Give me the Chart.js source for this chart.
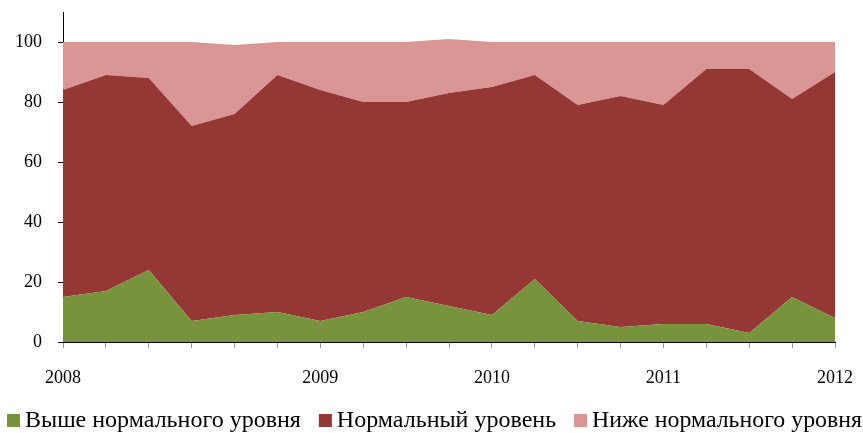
<!DOCTYPE html>
<html>
<head>
<meta charset="utf-8">
<script src="https://cdn.jsdelivr.net/npm/chart.js@4/dist/chart.umd.min.js"></script>
<style>
  html, body { margin: 0; padding: 0; background: #fff; }
  #wrap { width: 863px; height: 433px; }
</style>
</head>
<body>
<div id="wrap"><canvas id="grafico"></canvas></div>
<script>
// Подписи оси X (только у 2008..2012, остальные точки без подписи)
const periodos = ['2008', '', '', '', '', '', '2009', '', '', '', '2010', '', '', '', '2011', '', '', '', '2012'];

// Доли ответов, %
const acimaNormal = [15, 17, 24, 7, 9, 10, 7, 10, 15, 12, 9, 21, 7, 5, 6, 6, 3, 15, 8];
const nivelNormal = [69, 72, 64, 65, 67, 79, 77, 70, 65, 71, 76, 68, 72, 77, 73, 85, 88, 66, 82];
const abaixoNormal = [16, 11, 12, 28, 23, 11, 16, 20, 20, 18, 15, 11, 21, 18, 21, 9, 9, 19, 10];

const nomesSeries = ['Выше нормального уровня', 'Нормальный уровень', 'Ниже нормального уровня'];
const cores = ['#77933C', '#953735', '#D99694'];

function serie(i, dados, fill) {
  return {
    label: nomesSeries[i],
    data: dados,
    backgroundColor: cores[i],
    borderColor: cores[i],
    borderWidth: 0,
    pointRadius: 0,
    tension: 0,
    fill: fill,
  };
}

// Legenda desenhada à mão, uma linha só como no original
const legendaLinha = {
  id: 'legendaLinha',
  afterDraw(chart) {
    const c = chart.ctx;
    c.save();
    c.font = '24px "Liberation Serif"';
    c.textBaseline = 'middle';
    c.textAlign = 'left';
    let x = 7;
    const y = 421;
    chart.data.datasets.forEach((ds) => {
      c.fillStyle = ds.backgroundColor;
      c.fillRect(x, y - 7, 13, 13);
      x += 13 + 5;
      c.fillStyle = '#000';
      const w = Math.min(c.measureText(ds.label).width, chart.width - x - 1);
      c.fillText(ds.label, x, y, w);
      x += w + 18;
    });
    c.restore();
  },
};

// tira o padding automático das escalas, o layout.padding manda
function semPadding(scale) {
  scale.paddingTop = 0;
  scale.paddingBottom = 0;
  scale.paddingLeft = 0;
  scale.paddingRight = 0;
}

const ctx = document.getElementById('grafico').getContext('2d');
const chart = new Chart(ctx, {
  type: 'line',
  data: {
    labels: periodos,
    datasets: [
      serie(0, acimaNormal, 'origin'),
      serie(1, nivelNormal, '-1'),
      serie(2, abaixoNormal, '-1'),
    ],
  },
  plugins: [legendaLinha],
  options: {
    responsive: true,
    maintainAspectRatio: false,
    animation: false,
    layout: { padding: { left: 0, right: 28, top: 12, bottom: 41 } },
    plugins: {
      tooltip: { enabled: false },
      legend: { display: false },
    },
    scales: {
      x: {
        stacked: true,
        offset: false,
        grid: { drawOnChartArea: false, color: '#999', tickLength: 6 },
        border: { color: '#000', width: 1 },
        ticks: {
          autoSkip: false,
          maxRotation: 0,
          padding: 19,
          color: '#000',
          font: { family: 'Liberation Serif', size: 18 },
        },
        afterFit: (scale) => {
          scale.height = 50;
          semPadding(scale);
        },
      },
      y: {
        stacked: true,
        min: 0,
        max: 110,
        grid: { drawOnChartArea: false, color: '#000', tickLength: 5 },
        border: { color: '#000', width: 1 },
        ticks: {
          stepSize: 20,
          includeBounds: false,
          padding: 16,
          color: '#000',
          font: { family: 'Liberation Serif', size: 18 },
        },
        afterFit: (scale) => {
          scale.width = 63;
          semPadding(scale);
        },
      },
    },
  },
});
</script>
</body>
</html>
